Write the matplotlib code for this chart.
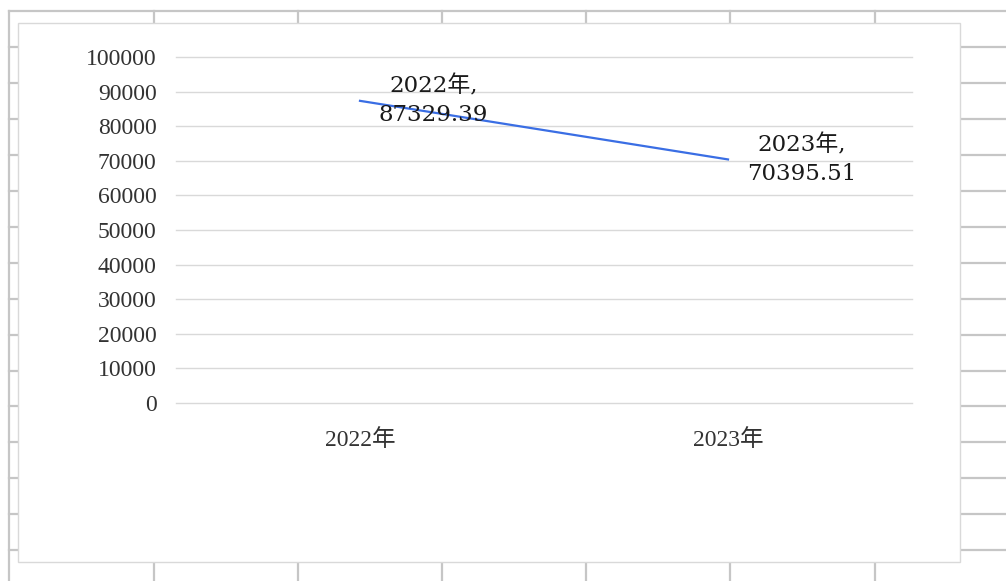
import matplotlib.pyplot as plt
from matplotlib.lines import Line2D
from matplotlib.patches import Rectangle

years = ['2022年', '2023年']
values = [87329.39, 70395.51]
y_ticks = [0, 10000, 20000, 30000, 40000, 50000, 60000, 70000, 80000, 90000, 100000]

plt.rcParams['font.family'] = ['Liberation Serif', 'Noto Sans CJK SC']

W, H = 1006, 581
fig = plt.figure(figsize=(W / 100, H / 100), dpi=100)


def px_line(x0, y0, x1, y1, color='#c6c6c6', lw=1.6):
    # lines in pixel coords (top-left origin) for the spreadsheet background
    fig.add_artist(Line2D([x0 / W, x1 / W], [1 - y0 / H, 1 - y1 / H],
                          transform=fig.transFigure, color=color, lw=lw, zorder=0))


# spreadsheet cells behind the chart
px_line(9, 11, W, 11)
px_line(9, 11, 9, H)
for x in [154, 298, 442, 586, 730, 875]:
    px_line(x, 11, x, 23)
    px_line(x, 562, x, H)
for y in [47, 83, 119, 155, 191, 227, 263, 299, 335, 371, 406, 442, 478, 514, 550]:
    px_line(9, y, 18, y)
    px_line(960, y, W, y)

# chart area
fig.add_artist(Rectangle((18 / W, 1 - 562 / H), (960 - 18) / W, (562 - 23) / H,
                         transform=fig.transFigure, facecolor='white',
                         edgecolor='#d9d9d9', lw=1, zorder=1))

ax = fig.add_axes([176 / W, 1 - 403 / H, (912 - 176) / W, (403 - 57) / H], zorder=2)
ax.patch.set_visible(False)

x = list(range(len(years)))
ax.plot(x, values, color='#3a6ee4', lw=1.6, zorder=3)

for xi, yr, v in zip(x, years, values):
    ax.annotate(f'{yr},\n{v:.2f}', (xi, v), xytext=(19, 0), textcoords='offset pixels',
                ha='left', va='center', multialignment='center', fontsize=16.5,
                linespacing=1.4, color='#1a1a1a',
                family=['DejaVu Serif', 'Noto Sans CJK SC'])

ax.set_xlim(-0.5, len(years) - 0.5)
ax.set_ylim(0, 100000)
ax.set_yticks(y_ticks)
ax.set_yticklabels([str(t) for t in y_ticks])
ax.set_xticks(x)
ax.set_xticklabels(years)
ax.grid(axis='y', color='#d9d9d9', lw=1)
for gl in ax.get_ygridlines():
    gl.set_clip_on(False)
ax.set_axisbelow(True)
for s in ax.spines.values():
    s.set_visible(False)
ax.tick_params(axis='both', length=0, labelsize=17, labelcolor='#333333')
ax.tick_params(axis='y', pad=14)
ax.tick_params(axis='x', pad=19)

fig.savefig('out.png', dpi=100, facecolor='white')
